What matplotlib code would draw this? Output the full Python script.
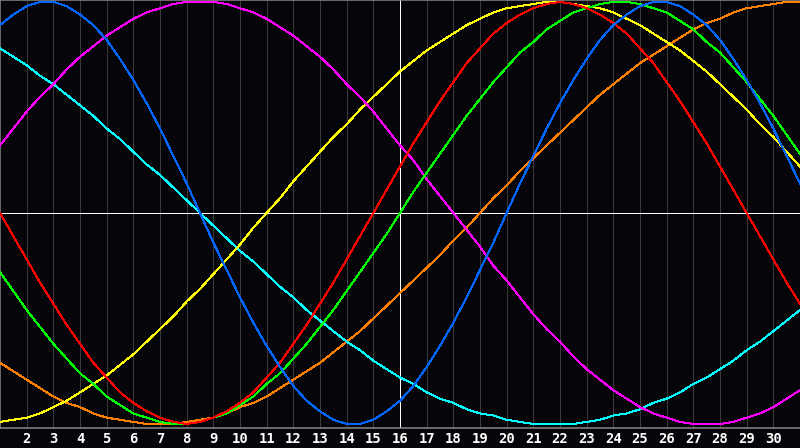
import numpy as np
from matplotlib import pyplot as plt

# sample days (every half day from the 1st to the 31st) and the labelled days
days = np.arange(1, 31.5, 0.5)
tick_days = list(range(2, 31))
today = 16

# curve values, -100..100, one per half day
physical = [89, 94, 98, 100, 100, 98, 94, 89, 82, 73, 63, 52, 40, 27, 14, 0,
            -14, -27, -40, -52, -63, -73, -82, -89, -94, -98, -100, -100, -98, -94, -89,
            -82, -73, -63, -52, -40, -27, -14, 0, 14, 27, 40, 52, 63, 73, 82,
            89, 94, 98, 100, 100, 98, 94, 89, 82, 73, 63, 52, 40, 27, 14]
emotional = [0, -11, -22, -33, -43, -53, -62, -71, -78, -85, -90, -94, -97, -99, -100,
             -99, -97, -94, -90, -85, -78, -71, -62, -53, -43, -33, -22, -11, 0, 11,
             22, 33, 43, 53, 62, 71, 78, 85, 90, 94, 97, 99, 100, 99, 97,
             94, 90, 85, 78, 71, 62, 53, 43, 33, 22, 11, 0, -11, -22, -33, -43]
intellectual = [-28, -37, -46, -54, -62, -69, -76, -81, -87, -91, -95, -97, -99, -100, -100,
                -99, -97, -95, -91, -87, -81, -76, -69, -62, -54, -46, -37, -28, -19, -10,
                0, 10, 19, 28, 37, 46, 54, 62, 69, 76, 81, 87, 91, 95, 97,
                99, 100, 100, 99, 97, 95, 91, 87, 81, 76, 69, 62, 54, 46, 37, 28]
intuitive = [32, 40, 48, 55, 61, 68, 74, 79, 84, 88, 92, 95, 97, 99, 100,
             100, 100, 99, 97, 95, 92, 88, 84, 79, 74, 68, 61, 55, 48, 40,
             32, 25, 16, 8, 0, -8, -16, -25, -32, -40, -48, -55, -61, -68, -74,
             -79, -84, -88, -92, -95, -97, -99, -100, -100, -100, -99, -97, -95, -92, -88, -84]
aesthetic = [-99, -98, -97, -95, -92, -89, -85, -81, -77, -72, -67, -61, -55, -49, -42,
             -36, -29, -22, -15, -7, 0, 7, 15, 22, 29, 36, 42, 49, 55, 61,
             67, 72, 77, 81, 85, 89, 92, 95, 97, 98, 99, 100, 100, 99, 98,
             97, 95, 92, 89, 85, 81, 77, 72, 67, 61, 55, 49, 42, 36, 29, 22]
awareness = [-71, -75, -79, -83, -87, -90, -92, -95, -97, -98, -99, -100, -100, -100, -99,
             -98, -97, -95, -92, -90, -87, -83, -79, -75, -71, -66, -61, -56, -50, -44,
             -38, -32, -26, -20, -13, -7, 0, 7, 13, 20, 26, 32, 38, 44, 50,
             56, 61, 66, 71, 75, 79, 83, 87, 90, 92, 95, 97, 98, 99, 100, 100]
spiritual = [78, 74, 70, 65, 61, 56, 51, 46, 40, 35, 29, 23, 18, 12, 6,
             0, -6, -12, -18, -23, -29, -35, -40, -46, -51, -56, -61, -65, -70, -74,
             -78, -81, -85, -88, -90, -93, -95, -96, -98, -99, -100, -100, -100, -100, -99,
             -98, -96, -95, -93, -90, -88, -85, -81, -78, -74, -70, -65, -61, -56, -51, -46]

series = [
    (awareness, '#ff8000'),
    (spiritual, '#00ffff'),
    (aesthetic, '#ffff00'),
    (intuitive, '#ff00ff'),
    (intellectual, '#00ff00'),
    (emotional, '#ff0000'),
    (physical, '#0066ff'),
]

bg = '#060509'
px = 0.72  # one pixel in points at 100 dpi
fig = plt.figure(figsize=(8, 4.48), dpi=100, facecolor=bg)
ax = fig.add_axes([0, 20 / 448, 1, 428 / 448])
ax.set_facecolor(bg)

for d in tick_days:
    ax.axvline(d, color='#3a3a3a', lw=px, antialiased=False, zorder=1)

ax.axhline(0, color='white', lw=px, antialiased=False, zorder=2)
ax.axvline(today, color='white', lw=px, antialiased=False, zorder=2)

for vals, col in series:
    ax.plot(days, vals, color=col, lw=px, antialiased=False, zorder=3)

ax.set_xlim(1, 31)
ax.set_ylim(-101.9, 100.9)
ax.set_yticks([])
ax.set_xticks(tick_days)
ax.set_xticklabels([str(d) for d in tick_days], color='white',
                   fontfamily='DejaVu Sans Mono', fontweight='bold', fontsize=10)
ax.tick_params(axis='x', length=0, pad=3)

for s in ['top', 'left', 'bottom']:
    ax.spines[s].set_color('#8a8a8a')
    ax.spines[s].set_linewidth(1.5 * px)
ax.spines['right'].set_visible(False)

fig.savefig('out.png', dpi=100, facecolor=bg)
